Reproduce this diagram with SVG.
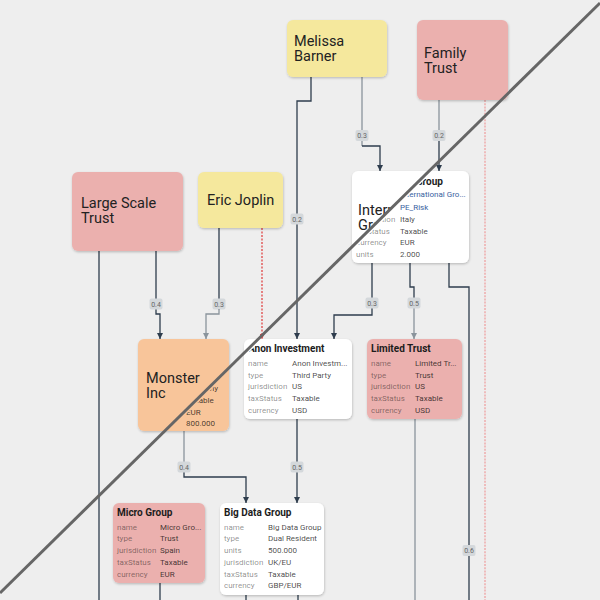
<svg xmlns="http://www.w3.org/2000/svg" width="600" height="600" viewBox="0 0 600 600">
<defs>
<style>
.big{font-family:Roboto,"Liberation Sans",sans-serif;font-size:14.5px;fill:#222}
.t{font-family:Roboto,"Liberation Sans",sans-serif;font-size:10px;font-weight:bold;fill:#1c1c1c}
.k{font-family:Roboto,"Liberation Sans",sans-serif;font-size:8px;fill:#000;fill-opacity:0.45}
.v{font-family:Roboto,"Liberation Sans",sans-serif;font-size:8px;fill:#000;fill-opacity:0.72}
.bl{fill:#3a62a0;fill-opacity:1}
.e{fill:none;stroke-width:1.3}
.d{stroke:#2e3d4d}
.g{stroke:#8a949c}
.lb rect{fill:#d4d8db}
.lb text{font-family:Roboto,"Liberation Sans",sans-serif;font-size:7px;fill:#666;text-anchor:middle}
.yel{fill:#f5e89d}
.pink{fill:#ebb0ae}
.org{fill:#f8c59a}
.wht{fill:#ffffff}
</style>
<filter id="sh" x="-10%" y="-10%" width="130%" height="130%">
<feDropShadow dx="0.5" dy="1.2" stdDeviation="1.2" flood-color="#000" flood-opacity="0.22"/>
</filter>
<marker id="ad" viewBox="0 0 6 6" refX="6" refY="3" markerWidth="6" markerHeight="6" markerUnits="userSpaceOnUse" orient="auto"><path d="M0,0 L6,3 L0,6 z" fill="#2e3d4d"/></marker>
<marker id="ag" viewBox="0 0 6 6" refX="6" refY="3" markerWidth="6" markerHeight="6" markerUnits="userSpaceOnUse" orient="auto"><path d="M0,0 L6,3 L0,6 z" fill="#8a949c"/></marker>
<marker id="ar" viewBox="0 0 6 6" refX="6" refY="3" markerWidth="5" markerHeight="5" markerUnits="userSpaceOnUse" orient="auto"><path d="M0,0 L6,3 L0,6 z" fill="#e04545"/></marker>
<clipPath id="ul"><polygon points="0,0 600,0 600,3 0,593"/></clipPath>
<clipPath id="lr"><polygon points="0,597 600,7 600,600 0,600"/></clipPath>
</defs>
<rect x="0" y="0" width="600" height="600" fill="#eeeeee"/>

<g id="connectors">
<path class="e d" d="M311,77 V101 H297 V339" marker-end="url(#ad)"/>
<path class="e g" d="M362,77 V146"/>
<path class="e d" d="M362,146 H380 V171" marker-end="url(#ad)"/>
<path class="e g" d="M439,100 V140"/>
<path class="e d" d="M439,140 V171" marker-end="url(#ad)"/>
<path class="e d" d="M99,251 V600"/>
<path class="e d" d="M156,251 V314 H160 V339" marker-end="url(#ad)"/>
<path class="e d" d="M219,228 V310"/>
<path class="e g" d="M219,310 V314 H206 V339" marker-end="url(#ag)"/>
<path class="e" d="M262,228 V339" stroke="#e04545" stroke-width="1" stroke-dasharray="2,1.5" marker-end="url(#ar)"/>
<path class="e" d="M485,100 V600" stroke="#eea2a2" stroke-width="1.8" stroke-dasharray="2,1.2"/>
<path class="e d" d="M372,263 V315 H334 V339" marker-end="url(#ad)"/>
<path class="e d" d="M410,263 V287 H414 V305"/>
<path class="e g" d="M414,305 V339" marker-end="url(#ag)"/>
<path class="e d" d="M449,263 V287 H469 V600"/>
<path class="e d" d="M297,419 V503" marker-end="url(#ad)"/>
<path class="e g" d="M184,431 V470"/>
<path class="e d" d="M184,470 V477 H246 V503" marker-end="url(#ad)"/>
<path class="e g" d="M415,419 V600"/>
<path class="e d" d="M160,583 V600"/>
<path class="e d" d="M246,595 V600"/>
<path class="e d" d="M298,595 V600"/>
<g class="lb"><rect x="355.5" y="130" width="13" height="11" rx="2"/><text x="362" y="138">0.3</text></g>
<g class="lb"><rect x="432.5" y="130" width="13" height="11" rx="2"/><text x="439" y="138">0.2</text></g>
<g class="lb"><rect x="290.5" y="213.5" width="13" height="11" rx="2"/><text x="297" y="221.5">0.2</text></g>
<g class="lb"><rect x="149.5" y="298.5" width="13" height="11" rx="2"/><text x="156" y="306.5">0.4</text></g>
<g class="lb"><rect x="212.5" y="298.5" width="13" height="11" rx="2"/><text x="219" y="306.5">0.3</text></g>
<g class="lb"><rect x="365.5" y="297.5" width="13" height="11" rx="2"/><text x="372" y="305.5">0.3</text></g>
<g class="lb"><rect x="407.5" y="297.5" width="13" height="11" rx="2"/><text x="414" y="305.5">0.5</text></g>
<g class="lb"><rect x="462.5" y="545" width="13" height="11" rx="2"/><text x="469" y="553">0.6</text></g>
<g class="lb"><rect x="177.5" y="461.5" width="13" height="11" rx="2"/><text x="184" y="469.5">0.4</text></g>
<g class="lb"><rect x="290.5" y="461.5" width="13" height="11" rx="2"/><text x="297" y="469.5">0.5</text></g>
</g>

<g id="node-melissa-barner">
<rect class="yel" x="287" y="20" width="100" height="57" rx="6" filter="url(#sh)"/>
<text class="big" x="294" y="46">Melissa</text>
<text class="big" x="294" y="61">Barner</text>
</g>

<g id="node-family-trust">
<rect class="pink" x="417" y="20" width="91" height="80" rx="6" filter="url(#sh)"/>
<text class="big" x="424" y="58">Family</text>
<text class="big" x="424" y="73">Trust</text>
</g>

<g id="node-large-scale-trust">
<rect class="pink" x="72" y="172" width="111" height="79" rx="6" filter="url(#sh)"/>
<text class="big" x="81" y="208">Large Scale</text>
<text class="big" x="81" y="223">Trust</text>
</g>

<g id="node-eric-joplin">
<rect class="yel" x="198" y="172" width="85" height="56" rx="6" filter="url(#sh)"/>
<text class="big" x="207" y="205">Eric Joplin</text>
</g>

<g id="node-international-group">
<rect class="wht" x="352" y="171" width="117" height="92" rx="6" filter="url(#sh)"/>
<g clip-path="url(#ul)">
<text class="big" x="358" y="215">International</text>
<text class="big" x="358" y="230">Group</text>
</g>
<g clip-path="url(#lr)">
<text class="t" x="356" y="185">International Group</text>
<text class="v bl" x="400" y="197">International Gro...</text>
<text class="v bl" x="400" y="210">PE_Risk</text>
<text class="k" x="356" y="221.5">jurisdiction</text><text class="v" x="400" y="221.5">Italy</text>
<text class="k" x="356" y="233.5">taxStatus</text><text class="v" x="400" y="233.5">Taxable</text>
<text class="k" x="356" y="245">currency</text><text class="v" x="400" y="245">EUR</text>
<text class="k" x="356" y="256.5">units</text><text class="v" x="400" y="256.5">2.000</text>
</g>
</g>

<g id="node-monster-inc">
<rect class="org" x="138" y="339" width="91" height="92" rx="6" filter="url(#sh)"/>
<g clip-path="url(#ul)">
<text class="big" x="146" y="383">Monster</text>
<text class="big" x="146" y="398">Inc</text>
</g>
<g clip-path="url(#lr)">
<text class="v" x="186" y="391">Germany</text>
<text class="v" x="186" y="403">Taxable</text>
<text class="v" x="186" y="414.5">EUR</text>
<text class="v" x="186" y="425.5">800.000</text>
</g>
</g>

<g id="node-anon-investment">
<rect class="wht" x="244" y="339" width="108" height="80" rx="6" filter="url(#sh)"/>
<g clip-path="url(#lr)">
<text class="t" x="248" y="352">Anon Investment</text>
<text class="k" x="248" y="366">name</text><text class="v" x="292" y="366">Anon Investm...</text>
<text class="k" x="248" y="377.5">type</text><text class="v" x="292" y="377.5">Third Party</text>
<text class="k" x="248" y="389">jurisdiction</text><text class="v" x="292" y="389">US</text>
<text class="k" x="248" y="401">taxStatus</text><text class="v" x="292" y="401">Taxable</text>
<text class="k" x="248" y="413">currency</text><text class="v" x="292" y="413">USD</text>
</g>
</g>

<g id="node-limited-trust">
<rect class="pink" x="367" y="339" width="95" height="80" rx="6" filter="url(#sh)"/>
<text class="t" x="371" y="352">Limited Trust</text>
<text class="k" x="371" y="366">name</text><text class="v" x="415" y="366">Limited Tr...</text>
<text class="k" x="371" y="377.5">type</text><text class="v" x="415" y="377.5">Trust</text>
<text class="k" x="371" y="389">jurisdiction</text><text class="v" x="415" y="389">US</text>
<text class="k" x="371" y="401">taxStatus</text><text class="v" x="415" y="401">Taxable</text>
<text class="k" x="371" y="413">currency</text><text class="v" x="415" y="413">USD</text>
</g>

<g id="node-micro-group">
<rect class="pink" x="113" y="503" width="92" height="80" rx="6" filter="url(#sh)"/>
<text class="t" x="117" y="516">Micro Group</text>
<text class="k" x="117" y="529.5">name</text><text class="v" x="160" y="529.5">Micro Gro...</text>
<text class="k" x="117" y="541">type</text><text class="v" x="160" y="541">Trust</text>
<text class="k" x="117" y="552.5">jurisdiction</text><text class="v" x="160" y="552.5">Spain</text>
<text class="k" x="117" y="564.5">taxStatus</text><text class="v" x="160" y="564.5">Taxable</text>
<text class="k" x="117" y="576.5">currency</text><text class="v" x="160" y="576.5">EUR</text>
</g>

<g id="node-big-data-group">
<rect class="wht" x="220" y="503" width="104" height="92" rx="6" filter="url(#sh)"/>
<text class="t" x="224" y="516">Big Data Group</text>
<text class="k" x="224" y="529.5">name</text><text class="v" x="268" y="529.5">Big Data Group</text>
<text class="k" x="224" y="541">type</text><text class="v" x="268" y="541">Dual Resident</text>
<text class="k" x="224" y="552.5">units</text><text class="v" x="268" y="552.5">500.000</text>
<text class="k" x="224" y="564.5">jurisdiction</text><text class="v" x="268" y="564.5">UK/EU</text>
<text class="k" x="224" y="576.5">taxStatus</text><text class="v" x="268" y="576.5">Taxable</text>
<text class="k" x="224" y="588">currency</text><text class="v" x="268" y="588">GBP/EUR</text>
</g>

<line id="divider" x1="0" y1="593" x2="600" y2="3" stroke="#666666" stroke-width="3"/>
</svg>
